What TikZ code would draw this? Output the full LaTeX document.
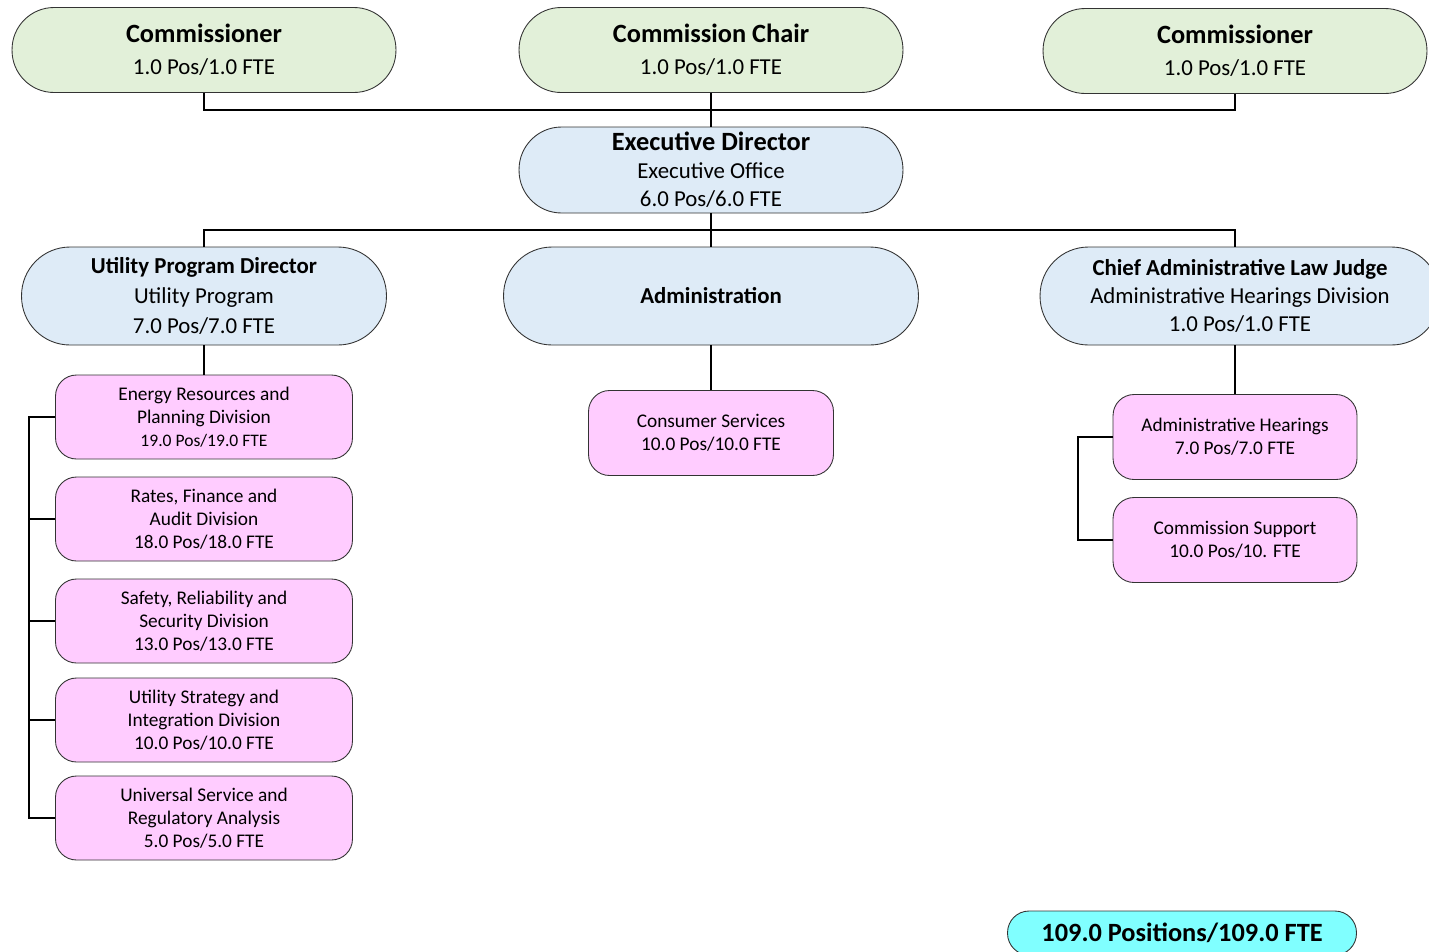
\documentclass[tikz,border=0pt]{standalone}
\usepackage{fontspec}
\setmainfont{Carlito}

\definecolor{chairgreen}{HTML}{E2F0D9}
\definecolor{mgmtblue}{HTML}{DEEBF7}
\definecolor{unitpink}{HTML}{FFCCFF}
\definecolor{totalcyan}{HTML}{80FFFF}

\newcommand{\boxtitle}[1]{{\fontsize{15}{18}\selectfont\bfseries #1}}
\newcommand{\subtitle}[1]{{\fontsize{13}{16}\selectfont\bfseries #1}}

\tikzset{
  pill/.style={draw=black!80, line width=0.5pt, align=center, inner sep=0pt,
    font=\fontsize{13}{16}\selectfont},
  topbox/.style={pill, fill=chairgreen, minimum width=7.68cm, minimum height=1.70cm, rounded corners=0.84cm},
  mgmtbox/.style={pill, fill=mgmtblue, minimum height=1.96cm, rounded corners=0.97cm},
  unitbox/.style={draw=black!80, line width=0.5pt, align=center, inner sep=0pt,
    fill=unitpink, minimum width=5.94cm, minimum height=1.68cm, rounded corners=0.42cm,
    font=\fontsize{11}{13}\selectfont},
}

\begin{document}
\begin{tikzpicture}[x=0.02cm, y=-0.02cm, line width=1.1pt]
    \useasboundingbox (0,0) rectangle (1429,951);

    % commissioners
    \node[topbox] (coml) at (204,50) {\boxtitle{Commissioner}\\[2pt] 1.0 Pos/1.0 FTE};
    \node[topbox] (chair) at (711,50) {\boxtitle{Commission Chair}\\[2pt] 1.0 Pos/1.0 FTE};
    \node[topbox] (comr) at (1235,51) {\boxtitle{Commissioner}\\[2pt] 1.0 Pos/1.0 FTE};

    \node[mgmtbox, minimum width=7.68cm, minimum height=1.72cm, rounded corners=0.85cm] (exec) at (711,170)
        {\boxtitle{Executive Director}\\ Executive Office\\ 6.0 Pos/6.0 FTE};

    % program heads
    \node[mgmtbox, minimum width=7.3cm] (util) at (204,296)
        {\subtitle{Utility Program Director}\\[1pt] Utility Program\\[1pt] 7.0 Pos/7.0 FTE};
    \node[mgmtbox, minimum width=8.3cm] (admin) at (711,296) {\subtitle{Administration}};
    \node[mgmtbox, minimum width=8.0cm] (calj) at (1240,296)
        {\subtitle{Chief Administrative Law Judge}\\ Administrative Hearings Division\\ 1.0 Pos/1.0 FTE};

    % divisions
    \node[unitbox] (erp) at (204,417) {Energy Resources and\\ Planning Division\\ {\fontsize{10}{12}\selectfont 19.0 Pos/19.0 FTE}};
    \node[unitbox] (rfa) at (204,519) {Rates, Finance and\\ Audit Division\\ 18.0 Pos/18.0 FTE};
    \node[unitbox] (srs) at (204,621) {Safety, Reliability and\\ Security Division\\ 13.0 Pos/13.0 FTE};
    \node[unitbox] (usi) at (204,720) {Utility Strategy and\\ Integration Division\\ 10.0 Pos/10.0 FTE};
    \node[unitbox] (usr) at (204,818) {Universal Service and\\ Regulatory Analysis\\ 5.0 Pos/5.0 FTE};

    \node[unitbox, minimum width=4.9cm, minimum height=1.70cm] (cons) at (711,433) {Consumer Services\\ 10.0 Pos/10.0 FTE};

    \node[unitbox, minimum width=4.88cm, minimum height=1.70cm] (hear) at (1235,437) {Administrative Hearings\\ 7.0 Pos/7.0 FTE};
    \node[unitbox, minimum width=4.88cm, minimum height=1.70cm] (csup) at (1235,540) {Commission Support\\ 10.0 Pos/10. FTE};

    \node[pill, fill=totalcyan, minimum width=6.98cm, minimum height=0.88cm, rounded corners=0.43cm] (total) at (1182,933)
        {\boxtitle{109.0 Positions/109.0 FTE}};

    % connectors
    \coordinate (bartop) at (711,110);
    \coordinate (barmid) at (711,230);
    \draw (coml.south) |- (bartop) -| (comr.south);
    \draw (chair.south) -- (exec.north);
    \draw (util.north) |- (barmid) -| (calj.north -| hear.north);
    \draw (exec.south) -- (admin.north);
    \draw (util.south) -- (erp.north);
    \draw (admin.south) -- (cons.north);
    \draw (calj.south -| hear.north) -- (hear.north);

    \draw (erp.west) -- ++(-26,0) |- (usr.west);
    \foreach \d in {rfa,srs,usi}
        \draw (\d.west) -- ++(-26,0);
    \draw (hear.west) -- ++(-35,0) |- (csup.west);
\end{tikzpicture}
\end{document}
